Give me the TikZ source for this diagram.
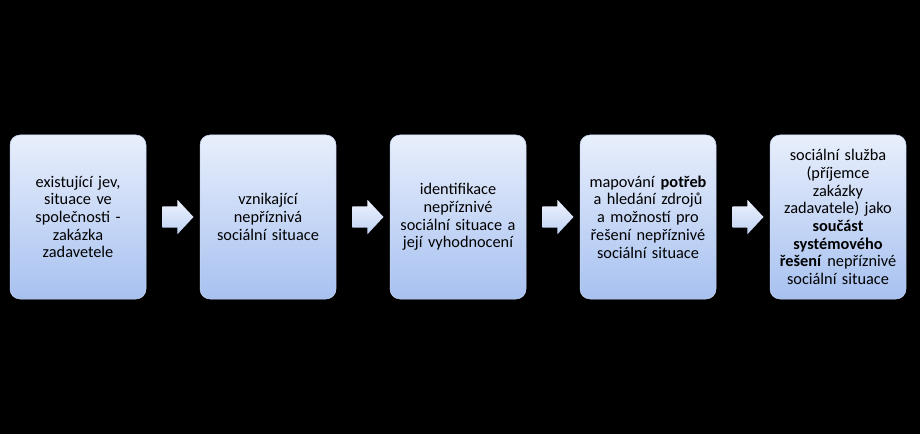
\documentclass[tikz,border=0pt]{standalone}
\usepackage{fontspec}
\setmainfont{Carlito}
\usetikzlibrary{shapes.arrows,calc}
\definecolor{boxtop}{HTML}{E8EFFC}
\definecolor{boxbot}{HTML}{A7C1F0}
\definecolor{boxedge}{HTML}{C8D6F2}
\definecolor{arrtop}{HTML}{EEF3FD}
\definecolor{arrbot}{HTML}{BFD1F3}
\begin{document}
\begin{tikzpicture}[x=1pt,y=1pt,
  stepbox/.style={rounded corners=10pt, minimum width=136pt, minimum height=164pt,
    top color=boxtop, bottom color=boxbot, draw=boxedge, line width=0.5pt,
    align=center, text width=134pt, inner sep=0pt,
    font=\fontsize{16.3}{17.7}\selectfont},
  flowarrow/.style={single arrow, single arrow head extend=6.5pt,
    single arrow head indent=0pt, single arrow tip angle=94,
    minimum height=31pt, inner xsep=0pt, inner ysep=10.5pt,
    top color=arrtop, bottom color=arrbot, draw=none}
  ]
\fill[black] (0,0) rectangle (920,434);
\useasboundingbox (0,0) rectangle (920,434);
\node[stepbox] (b1) at (78,217) {existující jev,\\ situace ve\\ společnosti -\\ zakázka\\ zadavetele};
\node[stepbox] (b2) at (268,217) {vznikající\\ nepříznivá\\ sociální situace};
\node[stepbox] (b3) at (458,217) {identifikace\\ nepříznivé\\ sociální situace a\\ její vyhodnocení};
\node[stepbox] (b4) at (648,217) {mapování \textbf{potřeb}\\ a hledání zdrojů\\ a možností pro\\ řešení nepříznivé\\ sociální situace};
\node[stepbox] (b5) at (838,217) {sociální služba\\ (příjemce\\ zakázky\\ zadavatele) jako\\ \textbf{součást}\\ \textbf{systémového}\\ \textbf{řešení} nepříznivé\\ sociální situace};
\node[flowarrow] (a1) at ($(b1.east)!0.5!(b2.west)$) {};
\node[flowarrow] (a2) at ($(b2.east)!0.5!(b3.west)$) {};
\node[flowarrow] (a3) at ($(b3.east)!0.5!(b4.west)$) {};
\node[flowarrow] (a4) at ($(b4.east)!0.5!(b5.west)$) {};
\end{tikzpicture}
\end{document}
